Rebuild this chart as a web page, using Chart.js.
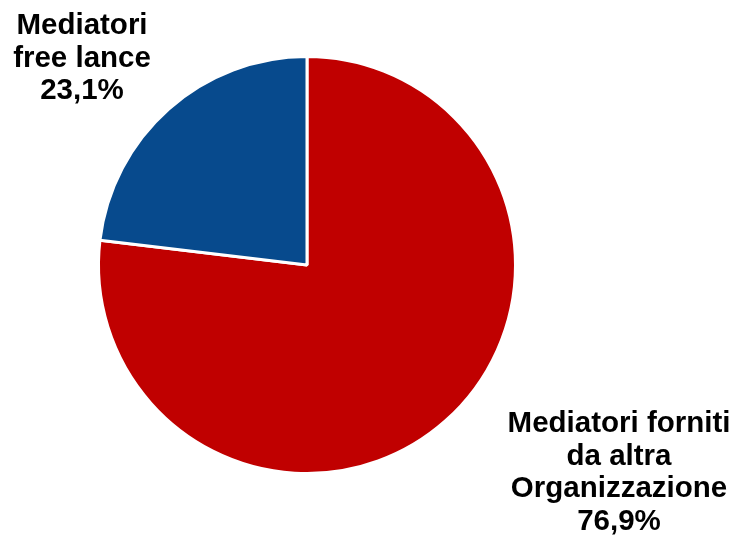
<!DOCTYPE html>
<html>
<head>
<meta charset="utf-8">
<script src="https://cdn.jsdelivr.net/npm/chart.js@4.4.1/dist/chart.umd.min.js"></script>
<style>
  html, body { margin: 0; padding: 0; background: #fff; }
  #wrap { width: 735px; height: 536px; position: relative; }
</style>
</head>
<body>
<div id="wrap"><canvas id="pieChart"></canvas></div>
<script>
const categories = [
    ['Mediatori forniti', 'da altra', 'Organizzazione'],
    ['Mediatori', 'free lance']
];
const shares = [76.9, 23.1];
const sliceColors = ['#C00000', '#074A8D'];

// where each slice label block is centred (x, first baseline)
const labelAnchors = [
    { x: 619, y: 432 },
    { x: 82, y: 34 }
];

const sliceLabels = {
    id: 'sliceLabels',
    afterDraw(chart) {
        const ctx = chart.ctx;
        const values = chart.data.datasets[0].data;
        ctx.save();
        ctx.font = 'bold 29.5px "Liberation Sans", Arial, sans-serif';
        ctx.fillStyle = '#000';
        ctx.textAlign = 'center';
        ctx.textBaseline = 'alphabetic';
        values.forEach((v, i) => {
            const lines = categories[i].concat(v.toFixed(1).replace('.', ',') + '%');
            const a = labelAnchors[i];
            lines.forEach((line, j) => ctx.fillText(line, a.x, a.y + j * 32.5));
        });
        ctx.restore();
    }
};

new Chart(document.getElementById('pieChart').getContext('2d'), {
    type: 'pie',
    data: {
        labels: categories.map(c => c.join(' ')),
        datasets: [{
            data: shares,
            backgroundColor: sliceColors,
            borderColor: '#fff',
            borderWidth: 3
        }]
    },
    options: {
        responsive: true,
        maintainAspectRatio: false,
        animation: false,
        layout: { padding: { left: 97, right: 218, top: 55, bottom: 61 } },
        plugins: {
            legend: { display: false },
            tooltip: { enabled: false }
        }
    },
    plugins: [sliceLabels]
});
</script>
</body>
</html>
